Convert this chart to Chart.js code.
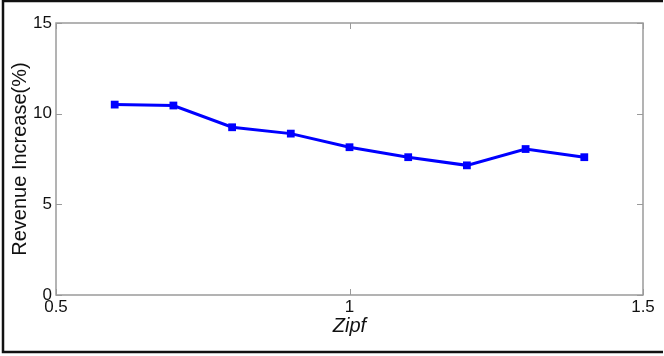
<!DOCTYPE html>
<html>
<head>
<meta charset="utf-8">
<script src="https://cdn.jsdelivr.net/npm/chart.js@4.4.1/dist/chart.umd.min.js"></script>
<style>
  html, body { margin: 0; padding: 0; background: #fff; }
  #wrap { width: 664px; height: 356px; position: relative; }
</style>
</head>
<body>
<div id="wrap"><canvas id="chart" width="664" height="356"></canvas></div>
<script>
// ---------- data ----------
const zipfValues = [0.6, 0.7, 0.8, 0.9, 1.0, 1.1, 1.2, 1.3, 1.4];
const revenueIncrease = [10.5, 10.45, 9.25, 8.9, 8.15, 7.6, 7.15, 8.05, 7.6];
const xTicks = [0.5, 1, 1.5];
const yTicks = [0, 5, 10, 15];

const AXIS_GREY = "#9a9a9a";
const FONT = "'Liberation Sans', Arial, sans-serif";

/* ---------- MATLAB style box, inward ticks, outer frame ---------- */
const matlabBox = {
  id: "matlabBox",
  beforeDraw(chart) {
    const { ctx } = chart;
    ctx.save();
    ctx.fillStyle = "#fff";
    ctx.fillRect(0, 0, chart.width, chart.height);
    // outer frame (left, top, bottom)
    ctx.strokeStyle = "#111";
    ctx.lineWidth = 2.5;
    ctx.beginPath();
    ctx.moveTo(663, 1);
    ctx.lineTo(3, 1);
    ctx.lineTo(3, 352);
    ctx.lineTo(663, 352);
    ctx.stroke();
    ctx.restore();
  },
  afterDatasetsDraw(chart) {
    const { ctx, chartArea: a, scales } = chart;
    ctx.save();
    ctx.strokeStyle = AXIS_GREY;
    ctx.lineWidth = 1.5;
    ctx.strokeRect(a.left, a.top, a.right - a.left, a.bottom - a.top);
    ctx.lineWidth = 1;
    const len = 6;
    ctx.beginPath();
    xTicks.forEach((v) => {
      const x = Math.round(scales.x.getPixelForValue(v)) + 0.5;
      ctx.moveTo(x, a.bottom); ctx.lineTo(x, a.bottom - len);
      ctx.moveTo(x, a.top); ctx.lineTo(x, a.top + len);
    });
    yTicks.forEach((v) => {
      const y = Math.round(scales.y.getPixelForValue(v)) + 0.5;
      ctx.moveTo(a.left, y); ctx.lineTo(a.left + len, y);
      ctx.moveTo(a.right, y); ctx.lineTo(a.right - len, y);
    });
    ctx.stroke();
    ctx.restore();
  }
};

new Chart(document.getElementById("chart"), {
  type: "scatter",
  data: {
    datasets: [
      {
        data: zipfValues.map((z, i) => ({ x: z, y: revenueIncrease[i] })),
        borderColor: "#0000ff",
        backgroundColor: "#0000ff",
        borderWidth: 3,
        showLine: true,
        pointStyle: "rect",
        pointRadius: 5.5,
        pointHoverRadius: 5.5,
        pointBorderWidth: 0
      }
    ]
  },
  options: {
    responsive: false,
    animation: false,
    layout: { padding: { top: 23, right: 21, left: 0, bottom: 0 } },
    plugins: { legend: { display: false }, tooltip: { enabled: false } },
    scales: {
      x: {
        type: "linear",
        min: 0.5,
        max: 1.5,
        afterBuildTicks: (s) => { s.ticks = xTicks.map((v) => ({ value: v })); },
        afterFit: (s) => { s.height = 61; },
        ticks: {
          autoSkip: false,
          maxRotation: 0,
          padding: 2,
          color: "#111",
          font: { family: FONT, size: 17 },
          callback: (v) => String(v)
        },
        grid: { display: false, drawTicks: false },
        border: { display: false },
        title: {
          display: true,
          text: "Zipf",
          color: "#111",
          padding: { top: 0, bottom: 18 },
          font: { family: FONT, size: 20, style: "italic" }
        }
      },
      y: {
        min: 0,
        max: 15,
        afterBuildTicks: (s) => { s.ticks = yTicks.map((v) => ({ value: v })); },
        afterFit: (s) => { s.width = 56; },
        ticks: {
          autoSkip: false,
          padding: 4,
          color: "#111",
          font: { family: FONT, size: 17 },
          callback: (v) => String(v)
        },
        grid: { display: false, drawTicks: false },
        border: { display: false },
        title: {
          display: true,
          text: "Revenue Increase(%)",
          color: "#111",
          padding: { top: 8, bottom: 0 },
          font: { family: FONT, size: 20 }
        }
      }
    }
  },
  plugins: [matlabBox]
});
</script>
</body>
</html>
